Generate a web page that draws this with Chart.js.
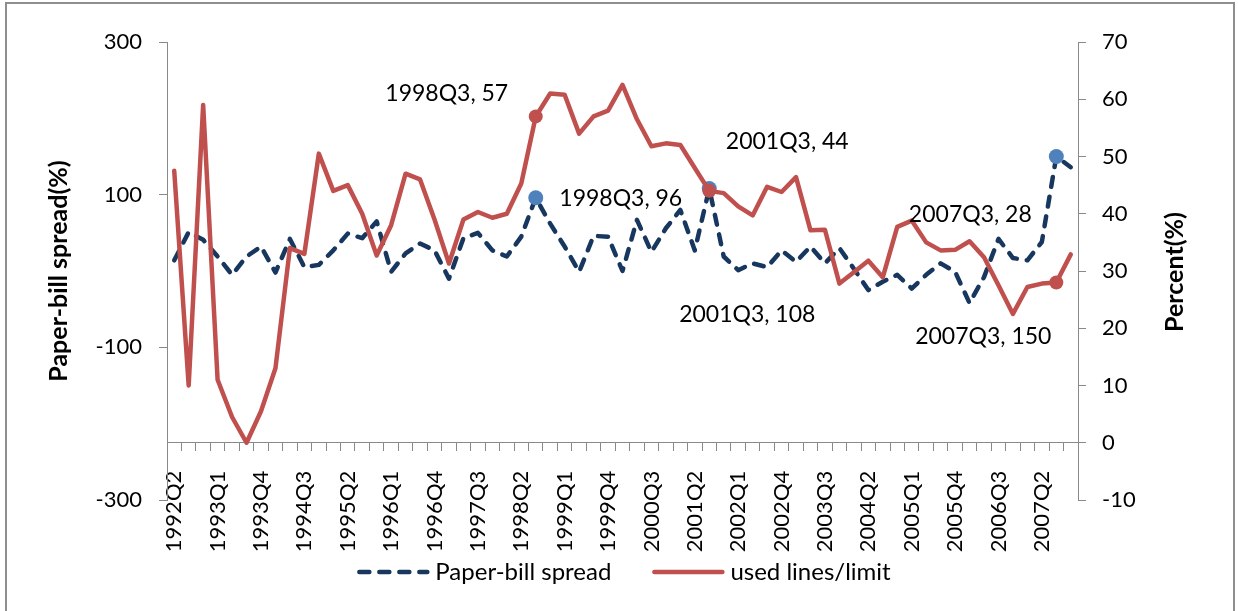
<!DOCTYPE html>
<html>
<head>
<meta charset="utf-8">
<script src="https://cdn.jsdelivr.net/npm/chart.js@4.4.1/dist/chart.umd.min.js"></script>
<style>
  html, body { margin: 0; padding: 0; background: #fff; }
  #wrap { width: 1238px; height: 611px; }
</style>
</head>
<body>
<div id="wrap"><canvas id="spread-chart" width="1238" height="611"></canvas></div>
<script>
// --- Quarterly paper-bill spread vs. credit line usage ---
const quarters = [
    '1992Q2', '1992Q3', '1992Q4',
    '1993Q1', '1993Q2', '1993Q3', '1993Q4',
    '1994Q1', '1994Q2', '1994Q3', '1994Q4',
    '1995Q1', '1995Q2', '1995Q3', '1995Q4',
    '1996Q1', '1996Q2', '1996Q3', '1996Q4',
    '1997Q1', '1997Q2', '1997Q3', '1997Q4',
    '1998Q1', '1998Q2', '1998Q3', '1998Q4',
    '1999Q1', '1999Q2', '1999Q3', '1999Q4',
    '2000Q1', '2000Q2', '2000Q3', '2000Q4',
    '2001Q1', '2001Q2', '2001Q3', '2001Q4',
    '2002Q1', '2002Q2', '2002Q3', '2002Q4',
    '2003Q1', '2003Q2', '2003Q3', '2003Q4',
    '2004Q1', '2004Q2', '2004Q3', '2004Q4',
    '2005Q1', '2005Q2', '2005Q3', '2005Q4',
    '2006Q1', '2006Q2', '2006Q3', '2006Q4',
    '2007Q1', '2007Q2', '2007Q3', '2007Q4'
];

// basis points, left axis
const paperBillSpread = [
    14, 51, 41,
    19, -5, 19, 32,
    -2, 42, 5, 8,
    27, 49, 43, 65,
    -1, 23, 36, 27,
    -10, 43, 50, 27,
    19, 45, 96, 62,
    32, -1, 46, 45,
    0, 67, 25, 56,
    80, 27, 108, 19,
    1, 10, 5, 27,
    12, 32, 10, 30,
    3, -25, -14, -5,
    -23, -5, 10, -1,
    -42, -8, 42, 17,
    14, 38, 150, 136
];

// percent, right axis
const usedLinesLimit = [
    47.5, 10, 59,
    11, 4.5, 0, 5.5,
    13, 34, 33, 50.5,
    44, 45, 40, 32.7,
    38, 47, 46, 39,
    31.3, 39, 40.3, 39.3,
    40, 45.3, 57, 61,
    60.8, 54, 57, 58,
    62.5, 56.5, 51.8, 52.3,
    52, 48, 44, 43.6,
    41.3, 39.7, 44.7, 43.8,
    46.4, 37.1, 37.2, 27.8,
    29.8, 31.8, 28.9, 37.7,
    38.8, 35, 33.6, 33.7,
    35.2, 32.4, 27.5, 22.5,
    27.2, 27.8, 28, 32.9
];

// quarters that get a marker and a value label
const calloutQuarters = ['1998Q3', '2001Q3', '2007Q3'];

const FONT = 'Lato, "DejaVu Sans", sans-serif';
const axisGray = '#898989';
const calloutIdx = calloutQuarters.map(q => quarters.indexOf(q));

// label offsets from the marker, per dataset (px)
const calloutOffsets = [
    { '1998Q3': [85, 1], '2001Q3': [38, 126], '2007Q3': [-73, 180] },
    { '1998Q3': [-89, -23], '2001Q3': [78, -49], '2007Q3': [-86, -68] }
];

const calloutLabels = {
    id: 'calloutLabels',
    afterDatasetsDraw(chart) {
        const { ctx } = chart;
        ctx.save();
        ctx.font = `23px ${FONT}`;
        ctx.fillStyle = '#000';
        ctx.textAlign = 'center';
        ctx.textBaseline = 'middle';
        chart.data.datasets.forEach((ds, di) => {
            const meta = chart.getDatasetMeta(di);
            calloutIdx.forEach(i => {
                const pt = meta.data[i];
                const q = quarters[i];
                const [dx, dy] = calloutOffsets[di][q];
                ctx.fillText(`${q}, ${ds.data[i]}`, pt.x + dx, pt.y + dy);
            });
        });
        ctx.restore();
    }
};

// legend row, right axis title and outer frame
const chartDecor = {
    id: 'chartDecor',
    afterDraw(chart) {
        const { ctx } = chart;
        ctx.save();

        ctx.strokeStyle = '#8e8e8e';
        ctx.lineWidth = 2;
        ctx.strokeRect(6, 3, 1228, 630);

        ctx.font = `bold 25px ${FONT}`;
        ctx.fillStyle = '#000';
        ctx.textAlign = 'center';
        ctx.textBaseline = 'middle';
        ctx.translate(1175, 272);
        ctx.rotate(-Math.PI / 2);
        ctx.fillText('Percent(%)', 0, 0);
        ctx.setTransform(1, 0, 0, 1, 0, 0);

        const sample = 72, textGap = 6, itemGap = 41, legendY = 572;
        ctx.font = `24px ${FONT}`;
        ctx.textAlign = 'left';
        const items = chart.data.datasets.map(ds => ({ ds, w: ctx.measureText(ds.label).width }));
        const total = items.reduce((s, it) => s + sample + textGap + it.w, 0) + itemGap * (items.length - 1);
        let x = 624 - total / 2;
        items.forEach(({ ds, w }) => {
            ctx.beginPath();
            ctx.strokeStyle = ds.borderColor;
            ctx.lineWidth = ds.borderWidth;
            ctx.lineCap = ds.borderCapStyle || 'butt';
            ctx.setLineDash(ds.borderDash || []);
            ctx.moveTo(x + 2, legendY);
            ctx.lineTo(x + sample - 2, legendY);
            ctx.stroke();
            ctx.setLineDash([]);
            ctx.fillText(ds.label, x + sample + textGap, legendY);
            x += sample + textGap + w + itemGap;
        });
        ctx.restore();
    }
};

const tickFont = { family: FONT, size: 22 };

new Chart(document.getElementById('spread-chart'), {
    type: 'line',
    data: {
        labels: quarters,
        datasets: [
            {
                label: 'Paper-bill spread',
                data: paperBillSpread,
                yAxisID: 'y',
                borderColor: '#17375E',
                borderWidth: 4.5,
                borderDash: [10, 10],
                borderCapStyle: 'round',
                borderJoinStyle: 'round',
                pointRadius: ctx => calloutIdx.includes(ctx.dataIndex) ? 7.5 : 0,
                pointBackgroundColor: '#4F81BD',
                pointBorderColor: '#4F81BD',
                pointBorderWidth: 0,
                tension: 0,
                order: 2
            },
            {
                label: 'used lines/limit',
                data: usedLinesLimit,
                yAxisID: 'y1',
                borderColor: '#C0504D',
                borderWidth: 4.5,
                borderCapStyle: 'round',
                borderJoinStyle: 'round',
                pointRadius: ctx => calloutIdx.includes(ctx.dataIndex) ? 7 : 0,
                pointBackgroundColor: '#C0504D',
                pointBorderColor: '#C0504D',
                pointBorderWidth: 0,
                tension: 0,
                order: 1
            }
        ]
    },
    options: {
        responsive: false,
        animation: false,
        layout: { padding: { left: 40, right: 0, top: 42, bottom: 111 } },
        plugins: {
            legend: { display: false },
            tooltip: { enabled: false }
        },
        scales: {
            x: {
                type: 'category',
                position: { y1: 0 },
                offset: true,
                grid: { offset: true, drawOnChartArea: false, drawTicks: true, tickLength: 8, color: axisGray, lineWidth: 1 },
                border: { color: axisGray, width: 1 },
                ticks: {
                    autoSkip: false,
                    minRotation: 90,
                    maxRotation: 90,
                    padding: 20,
                    color: '#000',
                    font: tickFont,
                    callback: (v, i) => i % 3 === 0 ? quarters[i] : ''
                }
            },
            y: {
                position: 'left',
                min: -300,
                max: 300,
                ticks: { stepSize: 200, padding: 17, color: '#000', font: tickFont },
                grid: { drawOnChartArea: false, tickLength: 8, color: axisGray },
                border: { color: axisGray, width: 1 },
                title: {
                    display: true,
                    text: 'Paper-bill spread(%)',
                    color: '#000',
                    font: { family: FONT, size: 25, weight: 'bold' },
                    padding: { top: 4, bottom: 0 }
                },
                afterFit: s => { s.width = 127; }
            },
            y1: {
                position: 'right',
                min: -10,
                max: 70,
                ticks: { stepSize: 10, padding: 16, color: '#000', font: tickFont },
                grid: { drawOnChartArea: false, tickLength: 8, color: axisGray },
                border: { color: axisGray, width: 1 },
                afterFit: s => { s.width = 160; }
            }
        }
    },
    plugins: [calloutLabels, chartDecor]
});
</script>
</body>
</html>
